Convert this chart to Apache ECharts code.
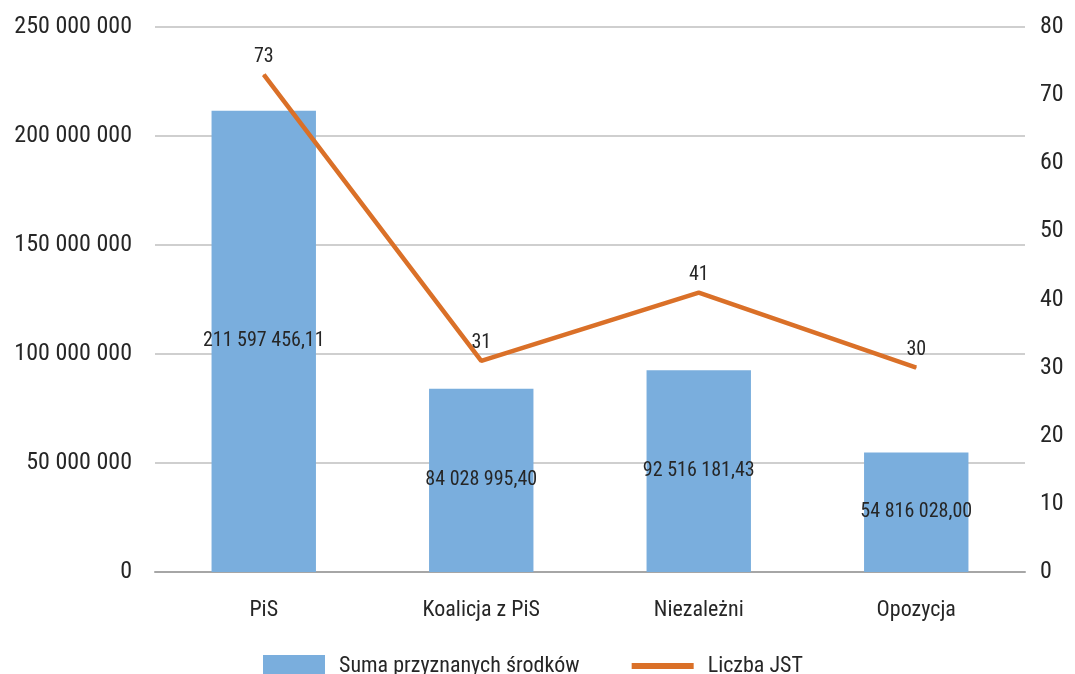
<!DOCTYPE html>
<html><head><meta charset="utf-8">
<script src="https://cdn.jsdelivr.net/npm/echarts@6/dist/echarts.min.js"></script>
<style>html,body{margin:0;padding:0;background:#fff}#c{width:1075px;height:674px}</style>
</head><body><div id="c"></div>
<script>
const categories = ['PiS', 'Koalicja z PiS', 'Niezależni', 'Opozycja'];
const sumaSrodkow = [211597456.11, 84028995.40, 92516181.43, 54816028.00];
const liczbaJST = [73, 31, 41, 30];
const seriesNames = ['Suma przyznanych środków', 'Liczba JST'];

const FONT = '"Roboto Condensed", "DejaVu Sans Condensed", sans-serif';
const TXT = '#262626';
const ORANGE = '#DA7028';
function fmtInt(v) { return String(Math.round(v)).replace(/\B(?=(\d{3})+(?!\d))/g, ' '); }
function fmtDec(v) {
  const p = v.toFixed(2).split('.');
  return p[0].replace(/\B(?=(\d{3})+(?!\d))/g, ' ') + ',' + p[1];
}
const chart = echarts.init(document.getElementById('c'));
chart.setOption({
  animation: false,
  textStyle: { fontFamily: FONT },
  grid: { left: 155, right: 50, top: 27, bottom: 102 },
  legend: {
    top: 650, left: 258, itemWidth: 62, itemHeight: 22, itemGap: 52,
    textStyle: { fontFamily: FONT, fontSize: 22, color: TXT, padding: [0, 0, 0, 9] },
    data: [
      { name: seriesNames[0], icon: 'rect' },
      { name: seriesNames[1], icon: 'path://M0,0 L0.01,0 L0.01,0.01 Z M0,8 L62,8 L62,14 L0,14 Z M0,22 L0.01,22 L0.01,21.99 Z' }
    ]
  },
  xAxis: {
    type: 'category', data: categories,
    axisLine: { lineStyle: { color: '#A6A6A6', width: 2 } },
    axisTick: { show: false },
    axisLabel: { fontSize: 22, color: TXT, margin: 27, fontFamily: FONT }
  },
  yAxis: [{
    type: 'value', min: 0, max: 250000000, interval: 50000000,
    axisLine: { show: false }, axisTick: { show: false },
    splitLine: { lineStyle: { color: '#BFBFBF', width: 1.5 } },
    axisLabel: { fontSize: 24, color: TXT, margin: 23, fontFamily: FONT, formatter: v => fmtInt(v) }
  }, {
    type: 'value', min: 0, max: 80, interval: 10,
    axisLine: { show: false }, axisTick: { show: false }, splitLine: { show: false },
    axisLabel: { fontSize: 24, color: TXT, margin: 15, fontFamily: FONT }
  }],
  series: [{
    name: seriesNames[0], type: 'bar', data: sumaSrodkow, barWidth: '48%',
    itemStyle: { color: '#7AAEDD' },
    label: { show: true, position: 'inside', color: TXT, fontSize: 20, fontFamily: FONT, formatter: p => fmtDec(p.value) }
  }, {
    name: seriesNames[1], type: 'line', yAxisIndex: 1, data: liczbaJST,
    symbol: 'circle', symbolSize: 1, showSymbol: true,
    lineStyle: { color: ORANGE, width: 4.5 }, itemStyle: { color: ORANGE },
    label: { show: true, position: 'top', distance: 7, color: TXT, fontSize: 20, fontFamily: FONT }
  }]
});
</script></body></html>
